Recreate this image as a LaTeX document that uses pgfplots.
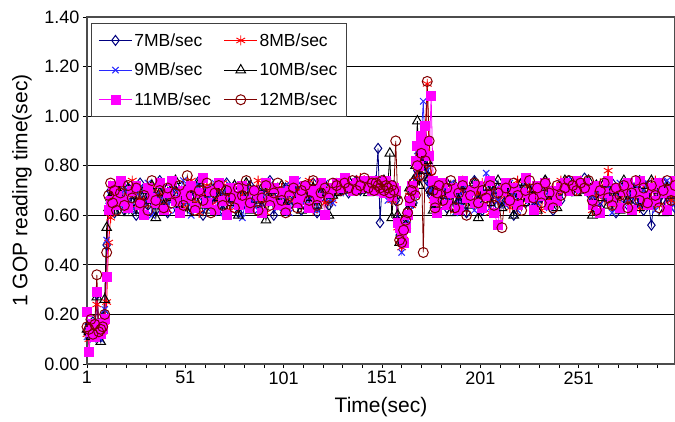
\documentclass[border=0pt]{standalone}
\usepackage{pgfplots}
\usepackage{pgfplotstable}
\pgfplotsset{compat=1.18}
\usepackage{fontspec}
\setmainfont{Liberation Sans}

\definecolor{c7}{RGB}{0,0,128}
\definecolor{c8}{RGB}{255,0,0}
\definecolor{c9}{RGB}{40,40,255}
\definecolor{c10}{RGB}{0,0,0}
\definecolor{c11}{RGB}{255,0,255}
\definecolor{c12}{RGB}{128,0,0}

% columns: t, 7MB, 8MB, 9MB, 10MB, 11MB, 12MB
\pgfplotstableread{
t a b c d e f
1 .13 .12 .11 .14 .21 .15
2 .16 .10 .12 .13 .05 .14
3 .12 .14 .15 .11 .13 .18
4 .17 .13 .10 .15 .16 .12
5 .14 .16 .13 .12 .11 .16
6 .28 .24 .29 .27 .29 .36
7 .13 .15 .17 .14 .16 .13
8 .11 .12 .10 .09 .12 .14
9 .15 .13 .16 .18 .14 .15
10 .20 .17 .22 .26 .18 .20
11 .48 .25 .50 .55 .35 .45
12 .63 .49 .66 .63 .62 .68
13 .70 .59 .68 .67 .66 .73
14 .66 .70 .64 .69 .72 .65
15 .61 .67 .71 .62 .64 .70
16 .72 .64 .66 .71 .68 .62
18 .67 .71 .63 .66 .74 .69
20 .62 .65 .70 .73 .66 .64
22 .71 .68 .66 .61 .63 .72
24 .65 .74 .62 .68 .70 .67
26 .60 .63 .69 .65 .72 .71
28 .73 .66 .71 .62 .64 .65
30 .68 .61 .65 .70 .60 .68
32 .64 .70 .73 .66 .71 .62
34 .70 .67 .60 .72 .67 .74
36 .62 .72 .68 .59 .65 .66
38 .74 .64 .66 .69 .73 .70
40 .66 .69 .71 .64 .62 .63
42 .61 .62 .64 .71 .69 .71
44 .69 .73 .70 .67 .74 .65
46 .72 .66 .62 .74 .66 .69
48 .64 .70 .69 .63 .61 .72
50 .67 .63 .74 .68 .70 .64
52 .71 .68 .65 .61 .67 .76
54 .63 .74 .60 .70 .72 .68
56 .69 .65 .72 .66 .63 .62
58 .74 .61 .67 .73 .69 .70
60 .60 .69 .70 .64 .75 .66
62 .66 .72 .63 .69 .65 .73
64 .71 .64 .68 .62 .70 .61
66 .65 .70 .73 .71 .62 .69
68 .68 .66 .61 .67 .73 .72
70 .62 .73 .69 .64 .66 .64
72 .73 .67 .66 .70 .60 .70
74 .67 .62 .72 .65 .71 .67
76 .70 .71 .64 .72 .68 .63
78 .61 .65 .70 .60 .64 .71
80 .69 .68 .59 .68 .72 .68
82 .64 .72 .67 .73 .66 .74
84 .72 .63 .71 .62 .63 .65
86 .66 .69 .65 .69 .70 .70
88 .70 .74 .62 .66 .68 .62
90 .63 .66 .69 .71 .61 .67
92 .68 .61 .73 .58 .73 .72
94 .74 .70 .66 .67 .66 .64
96 .60 .67 .70 .70 .71 .69
98 .69 .64 .63 .65 .64 .73
100 .66 .71 .68 .72 .69 .66
102 .71 .63 .72 .64 .62 .61
104 .64 .73 .61 .69 .70 .68
106 .68 .66 .69 .73 .74 .71
108 .72 .70 .74 .66 .65 .63
110 .62 .65 .66 .62 .68 .70
112 .70 .69 .64 .70 .72 .72
114 .65 .74 .71 .67 .63 .66
116 .73 .62 .68 .71 .70 .74
118 .61 .68 .62 .64 .67 .64
120 .67 .72 .70 .69 .73 .69
122 .70 .65 .73 .72 .60 .71
124 .64 .71 .67 .60 .69 .67
126 .71 .66 .65 .68 .71 .73
128 .72 .70 .71 .69 .73 .72
130 .70 .74 .69 .72 .71 .70
132 .73 .71 .72 .70 .75 .73
134 .69 .73 .70 .74 .72 .71
136 .72 .70 .74 .71 .70 .74
138 .74 .72 .71 .73 .73 .70
140 .70 .75 .73 .70 .71 .72
142 .73 .71 .70 .72 .74 .75
144 .71 .73 .74 .69 .72 .71
146 .72 .70 .72 .73 .70 .73
147 .71 .73 .70 .72 .74 .70
148 .74 .71 .72 .70 .71 .73
149 .87 .72 .74 .71 .73 .72
150 .57 .70 .69 .73 .70 .71
151 .72 .74 .71 .70 .72 .74
152 .70 .71 .73 .74 .69 .70
153 .73 .69 .70 .71 .74 .72
154 .69 .72 .66 .72 .70 .71
155 .71 .70 .68 .85 .72 .69
156 .68 .66 .70 .59 .68 .72
157 .72 .71 .67 .70 .71 .70
158 .66 .69 .71 .68 .70 .90
159 .58 .55 .57 .60 .57 .66
160 .52 .50 .56 .49 .55 .50
161 .49 .47 .45 .52 .53 .49
162 .55 .52 .50 .50 .49 .54
163 .57 .56 .55 .56 .55 .58
164 .62 .60 .58 .62 .60 .61
165 .66 .68 .64 .71 .66 .67
166 .70 .64 .71 .65 .72 .70
167 .65 .72 .68 .74 .69 .73
168 .73 .70 .74 .80 .82 .68
169 .78 .75 .86 .98 .88 .80
170 .82 .84 .79 .72 .80 .76
171 .76 .88 .92 .85 .92 .85
172 .87 .80 1.06 .78 .86 .45
173 .80 .95 .84 .90 .96 .82
174 .74 1.13 .78 .82 .90 1.14
175 .70 .85 .72 .75 .84 .90
176 .68 .76 .70 .70 1.08 .78
177 .72 .66 .65 .62 .74 .70
178 .64 .70 .68 .67 .66 .63
179 .69 .63 .71 .71 .61 .69
180 .66 .68 .62 .64 .70 .72
182 .71 .65 .70 .68 .73 .66
184 .63 .72 .66 .73 .64 .71
186 .68 .68 .73 .61 .69 .74
188 .72 .62 .61 .70 .71 .63
190 .65 .70 .68 .66 .62 .69
192 .70 .74 .64 .72 .74 .72
194 .61 .66 .71 .64 .67 .60
196 .69 .71 .67 .69 .70 .68
198 .74 .64 .62 .73 .65 .73
200 .66 .69 .72 .59 .72 .65
202 .62 .73 .69 .68 .63 .70
204 .71 .67 .77 .71 .68 .67
206 .67 .61 .63 .65 .74 .72
208 .73 .70 .70 .70 .61 .64
210 .64 .66 .66 .74 .56 .69
212 .70 .72 .71 .63 .70 .55
214 .66 .68 .64 .69 .73 .71
216 .72 .63 .73 .72 .66 .66
218 .60 .71 .68 .60 .71 .73
220 .69 .74 .62 .67 .64 .68
222 .73 .65 .70 .73 .69 .62
224 .65 .69 .74 .65 .75 .70
226 .70 .72 .66 .70 .67 .74
228 .63 .67 .71 .68 .62 .67
230 .71 .70 .65 .62 .72 .71
232 .67 .62 .72 .71 .68 .65
234 .74 .73 .68 .74 .73 .73
236 .68 .66 .63 .66 .64 .69
238 .62 .71 .70 .69 .70 .63
240 .70 .68 .66 .63 .66 .72
242 .66 .74 .73 .72 .71 .68
244 .72 .70 .71 .74 .73 .71
246 .74 .73 .69 .71 .70 .74
248 .70 .72 .74 .73 .72 .72
250 .73 .70 .72 .69 .74 .70
252 .71 .74 .70 .72 .71 .73
254 .75 .71 .73 .70 .73 .71
256 .69 .72 .71 .74 .70 .74
258 .66 .62 .68 .60 .64 .66
260 .71 .69 .63 .72 .72 .62
262 .63 .73 .70 .67 .61 .70
264 .70 .66 .66 .73 .69 .73
266 .67 .78 .72 .64 .74 .67
268 .73 .64 .61 .70 .66 .64
270 .61 .70 .69 .68 .71 .71
272 .69 .67 .73 .62 .63 .68
274 .72 .72 .65 .74 .70 .72
276 .64 .65 .70 .66 .73 .63
278 .70 .71 .67 .71 .62 .69
280 .66 .68 .72 .69 .69 .74
282 .74 .63 .64 .63 .74 .66
284 .62 .73 .70 .72 .67 .71
286 .68 .66 .73 .67 .64 .65
288 .56 .70 .66 .74 .71 .72
290 .71 .74 .62 .65 .66 .68
292 .67 .64 .71 .70 .73 .63
294 .73 .69 .68 .61 .69 .70
296 .65 .72 .74 .71 .62 .74
298 .70 .66 .63 .68 .70 .66
300 .63 .71 .70 .73 .74 .72
}\gop

\begin{document}
\begin{tikzpicture}
\begin{axis}[
    width=588bp, height=347bp,
    scale only axis,
    xmin=1, xmax=300,
    ymin=0, ymax=1.4,
    xtick={1,51,101,151,201,251},
    minor xtick={11,21,31,41,61,71,81,91,111,121,131,141,161,171,181,191,211,221,231,241,261,271,281,291},
    ytick={0,0.2,0.4,0.6,0.8,1.0,1.2,1.4},
    xtick pos=bottom, ytick pos=left,
    tick align=outside,
    major tick length=4bp, minor tick length=4bp,
    every tick/.style={black, line width=0.8bp},
    axis line style={black!70, line width=1.4bp},
    ymajorgrids=true,
    grid style={black, line width=0.9bp},
    clip=false,
    /pgf/number format/assume math mode=true,
    tick label style={font=\fontsize{18bp}{20bp}\selectfont},
    yticklabel style={/pgf/number format/.cd, fixed, fixed zerofill, precision=2},
    xlabel={Time(sec)},
    ylabel={1 GOP reading time(sec)},
    label style={font=\fontsize{21bp}{24bp}\selectfont},
    xlabel style={at={(axis description cs:0.5,-0.124)}, anchor=center},
    ylabel style={at={(axis description cs:-0.1105,0.5)}, anchor=center},
    legend columns=2,
    legend cell align=left,
    legend style={at={(axis description cs:0.007,0.983)}, anchor=north west,
        draw=black!75, line width=0.9bp, fill=white,
        font=\fontsize{17.5bp}{19bp}\selectfont,
        inner xsep=7bp, inner ysep=8bp,
        row sep=11.5bp,
        /tikz/every even column/.append style={column sep=11bp}},
    legend image code/.code={
        \draw[mark repeat=2, mark phase=2] plot coordinates {(0bp,0bp) (16.5bp,0bp) (33bp,0bp)};},
    every axis plot/.append style={line width=0.8bp},
]
\addplot[c7, mark=diamond, mark size=5bp, mark options={solid, line width=1bp}] table[x=t, y=a]{\gop};
\addlegendentry{7MB/sec}
\addplot[c8, mark=asterisk, mark size=5bp, mark options={solid, line width=0.9bp}] table[x=t, y=b]{\gop};
\addlegendentry{8MB/sec}
\addplot[c9, mark=x, mark size=4.5bp, mark options={solid, line width=1bp}] table[x=t, y=c]{\gop};
\addlegendentry{9MB/sec}
\addplot[c10, mark=triangle, mark size=5.5bp, mark options={solid, line width=1bp}] table[x=t, y=d]{\gop};
\addlegendentry{10MB/sec}
\addplot[c11, mark=square*, mark size=4.5bp, mark options={solid}] table[x=t, y=e]{\gop};
\addlegendentry{11MB/sec}
\addplot[c12, mark=o, mark size=5bp, mark options={solid, line width=1bp}] table[x=t, y=f]{\gop};
\addlegendentry{12MB/sec}
\end{axis}
\pgfresetboundingbox
\path[use as bounding box] (-87bp,-58bp) rectangle (588bp,364bp);
\end{tikzpicture}
\end{document}
